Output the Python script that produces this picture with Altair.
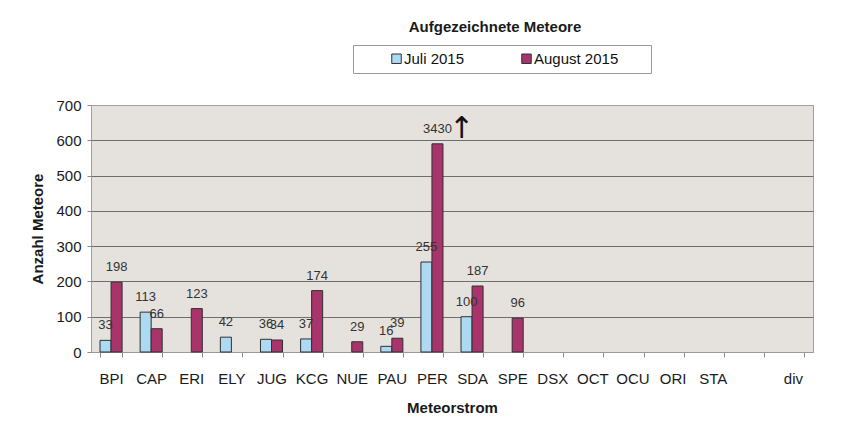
import altair as alt
import pandas as pd

categories = ["BPI", "CAP", "ERI", "ELY", "JUG", "KCG", "NUE", "PAU", "PER",
              "SDA", "SPE", "DSX", "OCT", "OCU", "ORI", "STA", " ", "div"]
juli_2015 = [33, 113, None, 42, 36, 37, None, 16, 255,
             100, None, None, None, None, None, None, None, None]
august_2015 = [198, 66, 123, None, 34, 174, 29, 39, 3430,
               187, 96, None, None, None, None, None, None, None]
series = ["Juli 2015", "August 2015"]
colors = ["#acdaf2", "#a8346b"]
y_ticks = [0, 100, 200, 300, 400, 500, 600, 700]
axis_max = 700
clipped_height = 590  # drawn height of the off-scale PER bar

rows = []
for month, values in zip(series, [juli_2015, august_2015]):
    for cat, v in zip(categories, values):
        if v is None:
            continue
        rows.append({
            "Strom": cat,
            "Monat": month,
            "Anzahl": v,
            "hoehe": clipped_height if v > axis_max else v,
            "label": str(v),
        })
df = pd.DataFrame(rows)

FONT = "Liberation Sans"

base = alt.Chart(df).encode(
    x=alt.X(
        "Strom:N",
        sort=categories,
        scale=alt.Scale(domain=categories, paddingInner=0.45, paddingOuter=0.225),
        axis=alt.Axis(
            title="Meteorstrom",
            labelAngle=0,
            tickBand="extent",
            tickSize=5,
            tickColor="#8a8a8a",
            domainColor="#9a9a9a",
            labelFontSize=15,
            labelFont=FONT,
            labelColor="#1a1a1a",
            labelPadding=14,
            titleFontSize=15,
            titleFont=FONT,
            titleFontWeight="bold",
            titleColor="#1a1a1a",
            titlePadding=14,
        ),
    ),
    xOffset=alt.XOffset("Monat:N", sort=series,
                        scale=alt.Scale(domain=series, paddingInner=0, paddingOuter=0)),
    y=alt.Y(
        "hoehe:Q",
        scale=alt.Scale(domain=[0, 700], nice=False),
        axis=alt.Axis(
            values=y_ticks,
            title="Anzahl Meteore",
            domain=False,
            tickSize=4,
            tickColor="#8a8a8a",
            labelFontSize=15,
            labelFont=FONT,
            labelColor="#1a1a1a",
            labelPadding=6,
            titleFontSize=15,
            titleFont=FONT,
            titleFontWeight="bold",
            titleColor="#1a1a1a",
            titlePadding=10,
            grid=True,
            gridColor=alt.condition("datum.value == 700 || datum.value == 0",
                                    alt.value("#a0a0a0"), alt.value("#6e6e6e")),
            gridWidth=1,
        ),
    ),
)

bars = base.mark_bar(stroke="#303030", strokeWidth=1).encode(
    color=alt.Color(
        "Monat:N",
        sort=series,
        scale=alt.Scale(domain=series, range=colors),
        legend=alt.Legend(
            title=" ",
            titleOrient="right",
            titlePadding=27,
            titleFontSize=15,
            orient="none",
            legendX=262,
            legendY=-60,
            direction="horizontal",
            symbolType="square",
            symbolSize=90,
            symbolStrokeColor="#333333",
            symbolStrokeWidth=1,
            symbolOffset=30,
            labelOffset=0,
            labelFontSize=15,
            labelFont=FONT,
            labelColor="#111111",
            columnPadding=24,
            padding=6,
            strokeColor="#999999",
            fillColor="white",
        ),
    )
)

labels = base.mark_text(
    baseline="middle", dy=-15, fontSize=13, font=FONT, color="#333333"
).encode(text="label:N")

arrow = base.transform_filter(alt.datum.Anzahl > axis_max).mark_text(
    text="\u2191", baseline="alphabetic", dx=24, dy=-6, fontSize=30,
    font="DejaVu Sans", color="#111111"
)

chart = alt.layer(bars, labels, arrow).properties(
    width=722,
    height=247,
    autosize=alt.AutoSizeParams(type="none"),
    padding={"left": 83, "top": 97, "right": 40, "bottom": 68},
    title=alt.Title(
        "Aufgezeichnete Meteore",
        fontSize=15,
        font=FONT,
        fontWeight="bold",
        color="#1a1a1a",
        offset=10,
        dx=43,
    ),
).configure_view(
    fill="#e5e2de",
    stroke="#a0a0a0",
)

chart.save("out.html", embed_options={"renderer": "svg", "actions": False})
